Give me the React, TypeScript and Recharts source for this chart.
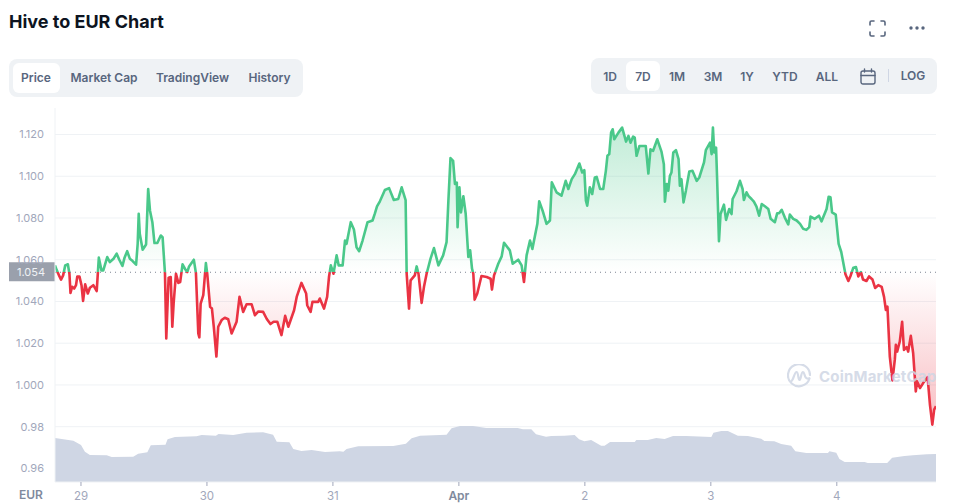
import { Area, CartesianGrid, ComposedChart, ReferenceLine, XAxis, YAxis } from "recharts";
import { CSSProperties, ReactElement } from "react";

// [hours since 29 March 00:00, price in EUR]
const pricePoints: [number, number][] = [
  [-4.95, 1.0573], [-4.6, 1.0549], [-4.1, 1.052], [-3.8, 1.0505], [-3.4, 1.0525], [-3.0, 1.0573], [-2.5, 1.0578], [-2.2, 1.0533],
  [-2.0, 1.0441], [-1.7, 1.047], [-1.3, 1.0462], [-0.95, 1.0478], [-0.7, 1.052], [-0.3, 1.052], [0.1, 1.0478], [0.4, 1.0403],
  [0.8, 1.0482], [1.3, 1.0438], [1.7, 1.0466], [2.35, 1.0478], [3.0, 1.045], [3.2, 1.053], [3.4, 1.061], [3.9, 1.0549],
  [4.25, 1.0549], [5.0, 1.0613], [5.5, 1.0589], [6.2, 1.0605], [6.8, 1.0629], [7.3, 1.06], [7.9, 1.057], [8.3, 1.061], [8.8, 1.0641], [9.3, 1.0605], [9.8, 1.0595], [10.5, 1.0576],
  [10.8, 1.0676], [11.0, 1.082], [11.2, 1.0724], [11.75, 1.0648], [12.4, 1.0673], [12.8, 1.0939], [13.15, 1.0835], [13.6, 1.078],
  [14.0, 1.068], [14.55, 1.068], [15.2, 1.0716], [15.55, 1.0708], [16.0, 1.0536], [16.25, 1.0223], [16.5, 1.039], [16.7, 1.0514],
  [17.1, 1.0517], [17.4, 1.0279], [17.65, 1.039], [18.1, 1.0533], [18.55, 1.0489], [18.9, 1.0493], [19.35, 1.0578], [19.8, 1.0557],
  [20.25, 1.0541], [20.6, 1.0568], [21.5, 1.06], [21.9, 1.0536], [22.35, 1.0247], [22.55, 1.0228], [22.8, 1.039], [23.3, 1.043],
  [23.8, 1.0584], [24.05, 1.0533], [24.6, 1.0374], [24.95, 1.0366], [25.3, 1.0279], [25.8, 1.0136], [26.15, 1.0279], [26.8, 1.0311], [27.4, 1.0322],
  [28.05, 1.0315], [28.7, 1.0247], [29.65, 1.0303], [30.2, 1.0422], [30.9, 1.035], [31.55, 1.0387], [32.5, 1.0387], [33.15, 1.0334], [33.8, 1.0352],
  [34.7, 1.035], [35.4, 1.0316], [36.1, 1.0292], [36.7, 1.0303], [37.4, 1.0303], [38.2, 1.0239], [38.9, 1.0331], [39.5, 1.0279], [40.6, 1.0358], [41.1, 1.0422],
  [42.0, 1.0489], [42.9, 1.0438], [43.1, 1.0382], [43.75, 1.035], [44.1, 1.0398], [45.2, 1.0398], [45.5, 1.0414], [46.3, 1.0366],
  [46.9, 1.0422], [47.25, 1.0517], [47.6, 1.0573], [48.1, 1.0533], [48.7, 1.0621], [49.1, 1.0573], [49.85, 1.0573], [50.3, 1.0692],
  [50.6, 1.0676], [51.4, 1.078], [52.0, 1.0745], [52.5, 1.066], [53.0, 1.0641], [53.65, 1.0692], [54.6, 1.078], [55.55, 1.0788], [56.0, 1.0822], [56.4, 1.0856],
  [56.95, 1.088], [57.9, 1.0934], [58.7, 1.0943], [59.6, 1.0886], [60.45, 1.0891], [61.1, 1.0947], [61.85, 1.0886], [62.05, 1.0533],
  [62.5, 1.0366], [62.8, 1.0501], [63.6, 1.0525], [63.95, 1.0568], [64.3, 1.0533], [64.9, 1.0393], [65.35, 1.047], [65.85, 1.0533],
  [66.6, 1.0605], [67.25, 1.0656], [68.1, 1.0573], [69.0, 1.0621], [69.65, 1.0684], [70.0, 1.0883], [70.4, 1.1087], [70.9, 1.1074],
  [71.25, 1.0963], [71.6, 1.097], [71.75, 1.0756], [72.1, 1.0947], [72.4, 1.0827], [72.85, 1.0904], [73.3, 1.0819], [73.8, 1.0613],
  [74.15, 1.0645], [74.5, 1.0557], [74.75, 1.0533], [75.0, 1.0409], [75.5, 1.0438], [76.3, 1.0522], [77.3, 1.0517], [78.05, 1.0509],
  [78.3, 1.0457], [78.7, 1.0525], [79.5, 1.0581], [80.15, 1.0616], [80.6, 1.0681], [81.7, 1.0645], [82.25, 1.0581], [83.3, 1.06],
  [83.95, 1.0573], [84.4, 1.0493], [84.9, 1.0621], [85.55, 1.0692], [86.0, 1.0652], [86.95, 1.0772], [87.3, 1.088], [87.95, 1.0835],
  [88.7, 1.0772], [89.35, 1.0788], [89.7, 1.0971], [90.6, 1.0923], [91.55, 1.0907], [92.35, 1.0978], [92.85, 1.0939], [93.5, 1.0986],
  [94.1, 1.101], [94.95, 1.1061], [95.5, 1.1018], [95.9, 1.1029], [96.2, 1.0883], [96.45, 1.0859], [96.95, 1.0947], [97.4, 1.0915],
  [97.9, 1.0994], [98.25, 1.0997], [98.9, 1.0939], [99.5, 1.0939], [100.0, 1.1026], [100.3, 1.1098], [100.65, 1.1106], [101.0, 1.1209],
  [101.3, 1.1225], [101.6, 1.1177], [102.4, 1.1209], [103.1, 1.1233], [103.85, 1.1166], [104.3, 1.1193], [104.7, 1.1161], [105.2, 1.119],
  [105.5, 1.1185], [105.85, 1.1098], [106.4, 1.1145], [107.6, 1.1145], [108.1, 1.1013], [108.5, 1.1129], [109.0, 1.1122], [109.8, 1.1177],
  [110.6, 1.1118], [111.05, 1.1058], [111.25, 1.0878], [111.6, 1.0963], [111.9, 1.0931], [112.2, 1.1002], [112.5, 1.1018], [112.85, 1.1114],
  [113.35, 1.1125], [113.85, 1.1082], [114.1, 1.0955], [114.4, 1.0986], [114.8, 1.0875], [115.25, 1.0931], [115.9, 1.1023], [116.5, 1.1026],
  [117.3, 1.0978], [117.8, 1.0994], [118.7, 1.1066], [119.05, 1.1125], [119.85, 1.1161], [120.15, 1.1106], [120.4, 1.1233], [120.65, 1.1114],
  [121.0, 1.1137], [121.2, 1.0986], [121.55, 1.0689], [121.85, 1.0819], [122.5, 1.0864], [122.9, 1.0791], [123.5, 1.0843], [123.95, 1.0819],
  [124.15, 1.0891], [124.9, 1.0928], [125.55, 1.0978], [126.05, 1.0939], [126.3, 1.0886], [126.8, 1.0923], [127.2, 1.0905], [127.75, 1.0891], [128.2, 1.0878], [128.7, 1.0854],
  [129.2, 1.0811], [129.7, 1.0867], [130.3, 1.0856], [130.95, 1.0843], [131.4, 1.0796], [132.2, 1.078], [132.65, 1.0823], [133.0, 1.0823], [133.5, 1.0839], [134.1, 1.0802], [134.75, 1.0769],
  [135.05, 1.0816], [135.7, 1.0796], [136.35, 1.0788], [137.0, 1.0772], [137.6, 1.0748], [138.2, 1.0743], [138.75, 1.0756], [139.0, 1.0807], [139.8, 1.0796], [140.6, 1.0811], [141.1, 1.0784],
  [142.05, 1.0843], [142.45, 1.0902], [142.8, 1.0899], [143.1, 1.0827], [143.8, 1.0816], [144.35, 1.0676], [144.85, 1.0637], [145.65, 1.053],
  [146.2, 1.0498], [146.65, 1.0525], [147.15, 1.0562], [147.65, 1.0565], [148.1, 1.052], [148.6, 1.0541], [149.0, 1.0505], [149.65, 1.0498],
  [150.15, 1.052], [150.8, 1.0505], [151.3, 1.0465], [151.9, 1.0478], [152.55, 1.047], [153.0, 1.0422], [153.35, 1.0359], [153.65, 1.0375],
  [154.1, 1.0136], [154.6, 1.0022], [155.05, 1.012], [155.25, 1.0192], [155.5, 1.016], [156.0, 1.0208], [156.45, 1.0303], [156.8, 1.0168],
  [157.3, 1.0181], [157.6, 1.016], [158.1, 1.0235], [158.55, 1.0152], [159.05, 0.9969], [159.3, 1.0017], [159.85, 0.9985], [160.45, 1.0009],
  [161.3, 1.0037], [161.75, 0.9905], [162.2, 0.981], [162.55, 0.9882], [162.9, 0.9898],
];

// [hours since 29 March 00:00, traded volume, relative units]
const volumePoints: [number, number][] = [
  [-4.95, 44], [-1.45, 41.3], [0, 37], [0.75, 30.3], [1.7, 27], [4.9, 26.7], [5.85, 25], [9.95, 25.3], [10.9, 28.3], [12.65, 29.7],
  [13.3, 36.7], [16.1, 37.3], [16.5, 42.7], [17.9, 45], [22, 45.7], [23, 47], [25.7, 46.3], [26.2, 48], [29, 47], [31.55, 49.3],
  [34.7, 49.7], [36.6, 47.3], [37.3, 40.3], [39.7, 39.7], [40.45, 33], [42, 31], [43.95, 32], [46.5, 30], [49.3, 30.7], [50, 30.3],
  [50.6, 33], [52.8, 35.7], [59.5, 36], [61.9, 38.3], [63, 43.7], [64.6, 46.3], [69.65, 47.3], [70.6, 53.7], [72.2, 56], [74.7, 56],
  [77.2, 54], [83.2, 54], [84.2, 52.7], [85.8, 52.7], [86.7, 47.7], [88.6, 45.3], [89.6, 46], [92.1, 46.3], [94.05, 47], [94.9, 42.7],
  [95.9, 40.7], [97.2, 42], [99.1, 36.3], [99.75, 36.3], [100.8, 40], [105.5, 40], [105.8, 42], [108, 42], [109.6, 44], [111.2, 43],
  [112.8, 46], [115.3, 46], [120.1, 45], [120.5, 49.3], [122, 51], [123.25, 51], [125.15, 46.3], [127.05, 46], [129.6, 43.3], [130.2, 41],
  [132.1, 40.7], [133.4, 38], [135.3, 36.3], [136.1, 30.7], [138.2, 29], [142.3, 29], [142.6, 30.7], [143.9, 29.3], [144.5, 23], [145.5, 20],
  [149.3, 20], [149.9, 19], [153.6, 19], [154.55, 24.3], [156.9, 26], [158.5, 26.7], [161.2, 27.7], [162.9, 28],
];

const dayTicks = [0, 24, 48, 72, 96, 120, 144];
const dayLabels = ["29", "30", "31", "Apr", "2", "3", "4"];
const priceTicks = [0.96, 0.98, 1.0, 1.02, 1.04, 1.06, 1.08, 1.1, 1.12];
const openPrice = 1.054;
const chartTabs = ["Market Cap", "TradingView", "History"];
const rangeTabs = ["1D", "7D", "1M", "3M", "1Y", "YTD", "ALL"];

const priceData = pricePoints.map(([hour, price]) => ({ hour, price }));
const volumeData = volumePoints.map(([hour, volume]) => ({ hour, volume }));

const prices = pricePoints.map((p) => p[1]);
const maxPrice = Math.max(...prices);
const minPrice = Math.min(...prices);
const splitOffset = (maxPrice - openPrice) / (maxPrice - minPrice);

const FONT = "Inter, sans-serif";
const GREEN = "#4ac88a";
const RED = "#ea3343";

const place = (left: number, top: number, extra: CSSProperties = {}): CSSProperties => ({
  position: "absolute",
  left,
  top,
  ...extra,
});

const tabText: CSSProperties = {
  fontFamily: FONT,
  fontSize: 12,
  fontWeight: 600,
  color: "#58667e",
  lineHeight: "16px",
  transform: "translateX(-50%)",
  whiteSpace: "nowrap",
};

function DayTick({ x, y, payload }: any): ReactElement {
  const label = dayLabels[dayTicks.indexOf(payload.value)];
  const isMonth = label === "Apr";
  return (
    <text
      x={x}
      y={y + 12}
      textAnchor="middle"
      fontFamily={FONT}
      fontSize={isMonth ? 12 : 11.5}
      fontWeight={isMonth ? 600 : 400}
      fill={isMonth ? "#808a9d" : "#a1a7bb"}
    >
      {label}
    </text>
  );
}

function OpenPriceTag({ viewBox }: any): ReactElement {
  const y = viewBox.y;
  return (
    <g>
      <rect x={9} y={y - 10} width={46} height={19} fill="#9aa0ac" />
      <text x={31} y={y + 4} textAnchor="middle" fontFamily={FONT} fontSize={11} fill="#eff2f5">
        {openPrice.toFixed(3)}
      </text>
    </g>
  );
}

function Watermark(): ReactElement {
  return (
    <div style={place(787, 364, { display: "flex", alignItems: "center", opacity: 0.85, pointerEvents: "none" })}>
      <svg width={24} height={24} viewBox="0 0 24 24" fill="none" stroke="#cfd6e4" strokeWidth={2.2}>
        <path d="M22.5 14.5A11 11 0 1 1 23 11" strokeLinecap="round" />
        <path d="M4.5 17c2-1 3-9 5-9s1.5 8 3 8 1.5-8 3.5-8 1 8 6 6.5" strokeLinecap="round" />
      </svg>
      <span style={{ marginLeft: 8, fontFamily: FONT, fontSize: 15, fontWeight: 700, color: "#cfd6e4", letterSpacing: 0.2 }}>
        CoinMarketCap
      </span>
    </div>
  );
}

function Header(): ReactElement {
  const tabCenters = [104, 192.5, 269.5];
  const rangeCenters = [610, 643, 677, 713, 747, 785, 827];
  return (
    <>
      <div style={place(9, 11, { fontFamily: FONT, fontSize: 18, fontWeight: 700, color: "#0d1421", lineHeight: "22px" })}>
        Hive to EUR Chart
      </div>

      <svg style={place(869, 20)} width={17} height={17} viewBox="0 0 17 17" fill="none" stroke="#58667e" strokeWidth={1.6} strokeLinecap="round">
        <path d="M1 5V2.5C1 1.7 1.7 1 2.5 1H5M12 1h2.5c.8 0 1.5.7 1.5 1.5V5M16 12v2.5c0 .8-.7 1.5-1.5 1.5H12M5 16H2.5C1.7 16 1 15.300 1 14.500V12" />
      </svg>
      <svg style={place(909, 25)} width={16} height={6} viewBox="0 0 16 6" fill="#58667e">
        <circle cx={2} cy={3} r={1.7} />
        <circle cx={8} cy={3} r={1.7} />
        <circle cx={14} cy={3} r={1.7} />
      </svg>

      <div style={place(9, 59, { width: 294, height: 38, background: "#eff2f5", borderRadius: 8 })} />
      <div style={place(13, 63, { width: 47, height: 30, background: "#fff", borderRadius: 6 })} />
      <div style={{ ...place(36, 70), ...tabText }}>Price</div>
      {chartTabs.map((tab, i) => (
        <div key={tab} style={{ ...place(tabCenters[i], 70), ...tabText }}>
          {tab}
        </div>
      ))}

      <div style={place(591, 58, { width: 346, height: 36, background: "#eff2f5", borderRadius: 8 })} />
      <div style={place(626, 61, { width: 34, height: 30, background: "#fff", borderRadius: 6 })} />
      {rangeTabs.map((tab, i) => (
        <div key={tab} style={{ ...place(rangeCenters[i], 69), ...tabText }}>
          {tab}
        </div>
      ))}
      <svg style={place(860, 68)} width={16} height={17} viewBox="0 0 16 17" fill="none" stroke="#58667e" strokeWidth={1.4} strokeLinecap="round">
        <rect x={1} y={3} width={14} height={13} rx={2} />
        <path d="M1 7.500h14M4.500 1v3M11.500 1v3" />
      </svg>
      <div style={place(888, 69, { width: 1, height: 13, background: "#cfd6e4" })} />
      <div style={{ ...place(913, 68), ...tabText }}>LOG</div>

      <div style={place(19, 487, { fontFamily: FONT, fontSize: 12, fontWeight: 600, color: "#808a9d", lineHeight: "16px" })}>EUR</div>
    </>
  );
}

export default function App(): ReactElement {
  return (
    <div style={place(0, 0, { width: 953, height: 504, overflow: "hidden", background: "#fff" })}>
      <ComposedChart width={953} height={504} margin={{ top: 108, right: 17, bottom: 0, left: 0 }}>
        <defs>
          <linearGradient id="priceStroke" x1="0" y1="0" x2="0" y2="1">
            <stop offset={splitOffset} stopColor={GREEN} />
            <stop offset={splitOffset} stopColor={RED} />
          </linearGradient>
          <linearGradient id="priceFill" x1="0" y1="0" x2="0" y2="1">
            <stop offset={0} stopColor={GREEN} stopOpacity={0.34} />
            <stop offset={splitOffset} stopColor={GREEN} stopOpacity={0} />
            <stop offset={splitOffset} stopColor={RED} stopOpacity={0} />
            <stop offset={1} stopColor={RED} stopOpacity={0.32} />
          </linearGradient>
        </defs>
        <CartesianGrid vertical={false} stroke="#eff2f5" yAxisId="price" horizontalValues={priceTicks} />
        <XAxis
          xAxisId="time"
          dataKey="hour"
          type="number"
          domain={[-4.95, 162.9]}
          ticks={dayTicks}
          height={22}
          interval={0}
          axisLine={{ stroke: "#eff2f5" }}
          tickLine={{ stroke: "#a1a7bb" }}
          tickSize={4}
          tick={<DayTick />}
          allowDataOverflow
        />
        <YAxis
          yAxisId="price"
          type="number"
          domain={[0.9535, 1.1327]}
          ticks={priceTicks}
          width={55}
          interval={0}
          axisLine={{ stroke: "#eff2f5" }}
          tickLine={false}
          tickMargin={5}
          tick={{ fontFamily: FONT, fontSize: 11, fill: "#a1a7bb" }}
          tickFormatter={(v: number) => v.toFixed(v >= 1 ? 3 : 2)}
          allowDataOverflow
        />
        <YAxis yAxisId="volume" type="number" domain={[0, 374]} hide />
        <Area
          xAxisId="time"
          yAxisId="volume"
          data={volumeData}
          dataKey="volume"
          type="linear"
          stroke="none"
          fill="#cfd6e4"
          fillOpacity={1}
          isAnimationActive={false}
          dot={false}
          activeDot={false}
        />
        <Area
          xAxisId="time"
          yAxisId="price"
          data={priceData}
          dataKey="price"
          type="linear"
          baseValue={openPrice}
          stroke="url(#priceStroke)"
          strokeWidth={2.6}
          strokeLinejoin="round"
          fill="url(#priceFill)"
          fillOpacity={1}
          isAnimationActive={false}
          dot={false}
          activeDot={false}
        />
        <ReferenceLine
          xAxisId="time"
          yAxisId="price"
          y={openPrice}
          stroke="#7d8492"
          strokeDasharray="1 4"
          label={<OpenPriceTag />}
        />
      </ComposedChart>
      <Header />
      <Watermark />
    </div>
  );
}
